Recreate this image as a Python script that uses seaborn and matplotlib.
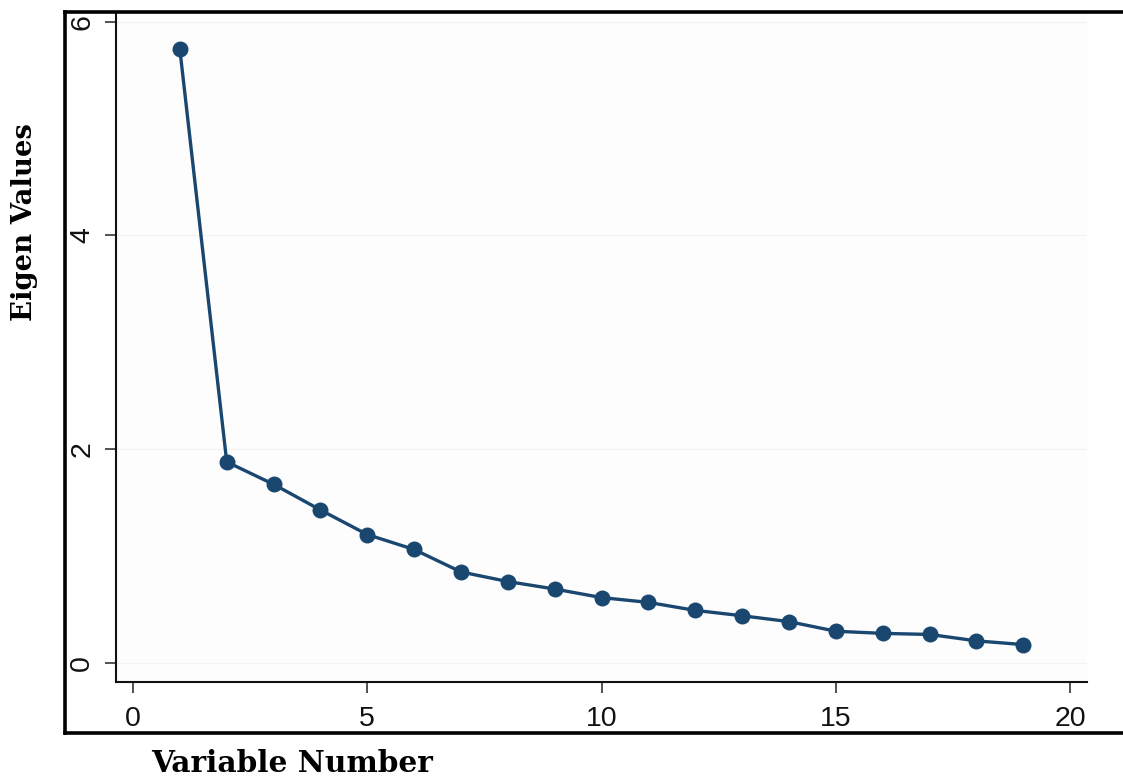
import matplotlib
matplotlib.use("Agg")
import matplotlib.pyplot as plt
import seaborn as sns
import pandas as pd
from matplotlib.lines import Line2D

variable_number = [1, 2, 3, 4, 5, 6, 7, 8, 9, 10, 11, 12, 13, 14, 15, 16, 17, 18, 19]
eigen_values = [5.74, 1.88, 1.67, 1.43, 1.20, 1.06, 0.85, 0.76, 0.69, 0.61, 0.565,
                0.49, 0.44, 0.385, 0.295, 0.275, 0.265, 0.205, 0.17]
x_ticks = [0, 5, 10, 15, 20]
y_ticks = [0, 2, 4, 6]

df = pd.DataFrame({"var": variable_number, "eig": eigen_values})

sns.set_style("white")
plt.rcParams["font.family"] = ["Liberation Sans", "DejaVu Sans"]
plt.rcParams["text.color"] = "black"

fig = plt.figure(figsize=(11.23, 7.79), dpi=100)
ax = fig.add_axes([116 / 1123, 1 - 682 / 779, (1087 - 116) / 1123, (682 - 12) / 779])
ax.set_facecolor("#fdfdfd")

navy = "#1a476f"
for yv in y_ticks:
    ax.axhline(yv, color="#f3f3f3", lw=1, zorder=0)

sns.lineplot(data=df, x="var", y="eig", ax=ax, color=navy, linewidth=2.4,
             marker="o", markersize=11.5, markeredgewidth=0, zorder=3)

ax.set_xlim(-0.363, 20.36)
ax.set_ylim(-0.18, 6.09)
ax.set_xticks(x_ticks)
ax.set_yticks(y_ticks)
ax.set_xticklabels([str(v) for v in x_ticks], fontsize=20.5)
ax.set_yticklabels([str(v) for v in y_ticks], fontsize=20.5, rotation=90, va="center")
ax.tick_params(axis="both", bottom=True, left=True, direction="out", length=8,
               width=1.3, color="#444444", labelcolor="#111111")
ax.tick_params(axis="y", pad=7)
ax.tick_params(axis="x", pad=9)

for s in ["top", "right"]:
    ax.spines[s].set_visible(False)
for s in ["left", "bottom"]:
    ax.spines[s].set_visible(True)
    ax.spines[s].set_color("#111111")
    ax.spines[s].set_linewidth(1.5)

ax.set_xlabel("")
ax.set_ylabel("")

# outer frame
fx0 = 65 / 1123
fy_top = 1 - 12 / 779
fy_bot = 1 - 733 / 779
for xs, ys in [([fx0, 1.0], [fy_top, fy_top]), ([fx0, fx0], [fy_top, fy_bot]),
               ([fx0, 1.0], [fy_bot, fy_bot])]:
    fig.add_artist(Line2D(xs, ys, transform=fig.transFigure, color="black", lw=2.6,
                          solid_capstyle="projecting"))

fig.text(292 / 1123, 1 - 764 / 779, "Variable Number", fontsize=21.3, fontweight="bold",
         family=["DejaVu Serif"], ha="center", va="center", color="black")
fig.text(25 / 1123, 1 - 222 / 779, "Eigen Values", fontsize=19.8, fontweight="bold",
         family=["DejaVu Serif"], ha="center", va="center", rotation=90, color="black")

fig.savefig("out.png", dpi=100)
